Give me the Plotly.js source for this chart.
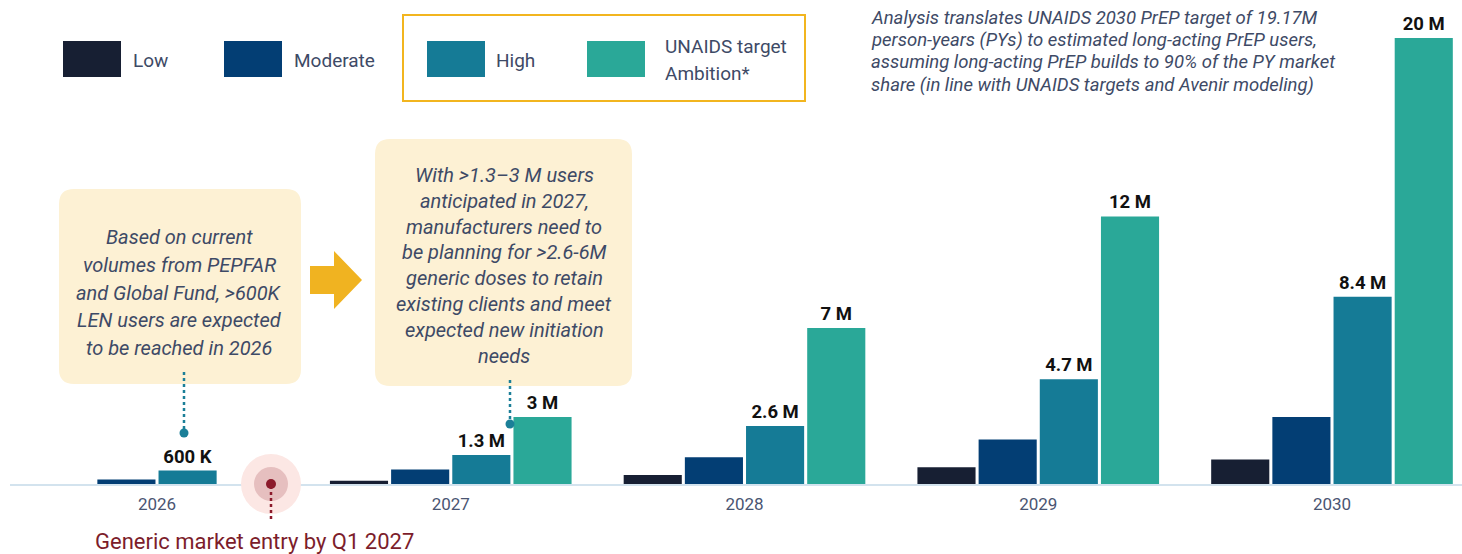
<!DOCTYPE html>
<html>
<head>
<meta charset="utf-8">
<script src="https://cdn.plot.ly/plotly-3.0.1.min.js"></script>
<style>html,body{margin:0;padding:0;background:#fff;}#chart{width:1462px;height:554px;}</style>
</head>
<body>
<div id="chart"></div>
<script>
// ---- data ----
const years = ['2026', '2027', '2028', '2029', '2030'];
const seriesNames = ['Low', 'Moderate', 'High', 'UNAIDS target Ambition*'];
const lowVals = [null, 0.15, 0.4, 0.75, 1.1];
const moderateVals = [0.2, 0.65, 1.2, 2.0, 3.0];
const highVals = [0.6, 1.3, 2.6, 4.7, 8.4];
const unaidsVals = [null, 3, 7, 12, 20];
const highLabels = ['600 K', '1.3 M', '2.6 M', '4.7 M', '8.4 M'];
const unaidsLabels = ['', '3 M', '7 M', '12 M', '20 M'];
const box1Lines = ['Based on current', 'volumes from PEPFAR', 'and Global Fund, >600K', 'LEN users are expected', 'to be reached in 2026'];
const box2Lines = ['With >1.3\u20133 M users', 'anticipated in 2027,', 'manufacturers need to', 'be planning for >2.6-6M', 'generic doses to retain', 'existing clients and meet', 'expected new initiation', 'needs'];
const noteLines = ['Analysis translates UNAIDS 2030 PrEP target of 19.17M', 'person-years (PYs) to estimated long-acting PrEP users,', 'assuming long-acting PrEP builds to 90% of the PY market', 'share (in line with UNAIDS targets and Avenir modeling)'];
const entryText = 'Generic market entry by Q1 2027';

// ---- styling ----
const colors = ['#171f33', '#033e74', '#157b96', '#2aa898'];
const FONT = 'Roboto, "Noto Sans", sans-serif';
const TXT = '#3e4a66';
const W = 1462, PH = 484;
const X = px => px / W;
const Y = py => 1 - py / PH;

function bar(name, vals, color, labels) {
  const t = {
    type: 'bar', name: name, x: years, y: vals,
    marker: {color: color, line: {width: 0}},
    hoverinfo: 'skip', cliponaxis: false
  };
  if (labels) {
    t.text = labels;
    t.textposition = 'outside';
    t.constraintext = 'none';
    t.textfont = {family: FONT, size: 18.5, color: '#111111', weight: 700};
  }
  return t;
}
const traces = [
  bar(seriesNames[0], lowVals, colors[0]),
  bar(seriesNames[1], moderateVals, colors[1]),
  bar(seriesNames[2], highVals, colors[2], highLabels),
  bar(seriesNames[3], unaidsVals, colors[3], unaidsLabels)
];

function roundRect(x0, y0, x1, y1, r, fill) {
  const a = X(x0), b = X(x1), c = Y(y0), d = Y(y1);
  const rx = r / W, ry = r / PH;
  const p = `M ${a + rx},${c} L ${b - rx},${c} Q ${b},${c} ${b},${c - ry} L ${b},${d + ry} Q ${b},${d} ${b - rx},${d} L ${a + rx},${d} Q ${a},${d} ${a},${d + ry} L ${a},${c - ry} Q ${a},${c} ${a + rx},${c} Z`;
  return {type: 'path', xref: 'paper', yref: 'paper', path: p, fillcolor: fill, line: {width: 0}, layer: 'below'};
}
function circle(cx, cy, r, fill) {
  return {type: 'circle', xref: 'paper', yref: 'paper', x0: X(cx - r), x1: X(cx + r), y0: Y(cy + r), y1: Y(cy - r), fillcolor: fill, line: {width: 0}, layer: 'above'};
}
function vline(x, y0, y1, color) {
  return {type: 'line', xref: 'paper', yref: 'paper', x0: X(x), x1: X(x), y0: Y(y0), y1: Y(y1), line: {color: color, width: 2.5, dash: 'dot'}, layer: 'above'};
}
function square(x0, y0, x1, y1, fill) {
  return {type: 'rect', xref: 'paper', yref: 'paper', x0: X(x0), x1: X(x1), y0: Y(y1), y1: Y(y0), fillcolor: fill, line: {width: 0}};
}
const arrowPts = [[310, 266], [334, 266], [334, 251], [362, 280], [334, 309], [334, 294], [310, 294]];
const arrowPath = 'M ' + arrowPts.map(p => X(p[0]) + ',' + Y(p[1])).join(' L ') + ' Z';

const shapes = [
  {type: 'line', xref: 'paper', yref: 'paper', x0: X(10), x1: 1, y0: Y(485), y1: Y(485), line: {color: '#d3e3ee', width: 2}, layer: 'below'},
  {type: 'rect', xref: 'paper', yref: 'paper', x0: X(403), x1: X(805), y0: Y(101), y1: Y(15), line: {color: '#f2b51f', width: 2}, fillcolor: 'rgba(0,0,0,0)'},
  square(63, 41, 121, 77, colors[0]),
  square(224, 41, 282, 77, colors[1]),
  square(427, 41, 485, 77, colors[2]),
  square(587, 41, 645, 77, colors[3]),
  roundRect(59, 189, 301, 384, 15, '#fdf1d4'),
  roundRect(375, 139, 632, 386, 15, '#fdf1d4'),
  {type: 'path', xref: 'paper', yref: 'paper', path: arrowPath, fillcolor: '#f0b321', line: {width: 0}},
  vline(184, 372, 430, '#1b7f98'),
  circle(184, 433, 4.5, '#1b7f98'),
  vline(510, 380, 421, '#1b7f98'),
  circle(510, 424, 4.5, '#1b7f98'),
  circle(271, 484, 30, '#fce7e4'),
  circle(271, 484, 17, '#e6bfbf'),
  vline(271, 486, 522, '#8c1a2b'),
  circle(271, 484, 5, '#8c1a2b')
];

const annotations = [];
function addText(text, x, y, opts) {
  annotations.push(Object.assign({
    xref: 'paper', yref: 'paper', x: X(x), y: Y(y), text: text, showarrow: false,
    xanchor: 'center', yanchor: 'middle',
    font: {family: FONT, size: 18, color: TXT}
  }, opts || {}));
}
addText('Low', 131, 61, {xanchor: 'left', font: {family: FONT, size: 19, color: TXT}});
addText('Moderate', 292, 61, {xanchor: 'left', font: {family: FONT, size: 19, color: TXT}});
addText('High', 494, 61, {xanchor: 'left', font: {family: FONT, size: 19, color: TXT}});
addText('UNAIDS target', 663, 47, {xanchor: 'left', font: {family: FONT, size: 19, color: TXT}});
addText('Ambition*', 663, 73, {xanchor: 'left', font: {family: FONT, size: 19, color: TXT}});
box1Lines.forEach((s, i) => addText(s, 179, 237 + i * 27.8, {font: {family: FONT, size: 20, color: TXT, style: 'italic'}}));
box2Lines.forEach((s, i) => addText(s, 504, 175 + i * 25.8, {font: {family: FONT, size: 20, color: TXT, style: 'italic'}}));
noteLines.forEach((s, i) => addText(s, 869, 18 + i * 22.2, {xanchor: 'left', font: {family: FONT, size: 18.5, color: TXT, style: 'italic'}}));
addText(entryText, 254, 541, {font: {family: FONT, size: 22, color: '#7c1d2b'}});

const pxPerCat = 293.75;
const x0 = -157 / pxPerCat;
const layout = {
  width: 1462, height: 554,
  margin: {l: 0, r: 0, t: 0, b: 70, pad: 0},
  paper_bgcolor: '#ffffff', plot_bgcolor: '#ffffff',
  barmode: 'group', bargap: 0.167, bargroupgap: 0.05,
  showlegend: false, hovermode: false,
  xaxis: {
    type: 'category', range: [x0, x0 + W / pxPerCat],
    showgrid: false, zeroline: false, showline: false,
    ticks: 'outside', ticklen: 5, tickcolor: 'rgba(0,0,0,0)',
    tickfont: {family: FONT, size: 17, color: '#4a5572'}, fixedrange: true
  },
  yaxis: {range: [0, PH / 22.3], visible: false, fixedrange: true},
  shapes: shapes,
  annotations: annotations,
  font: {family: FONT}
};
Plotly.newPlot('chart', traces, layout, {displayModeBar: false, staticPlot: true});
</script>
</body>
</html>
